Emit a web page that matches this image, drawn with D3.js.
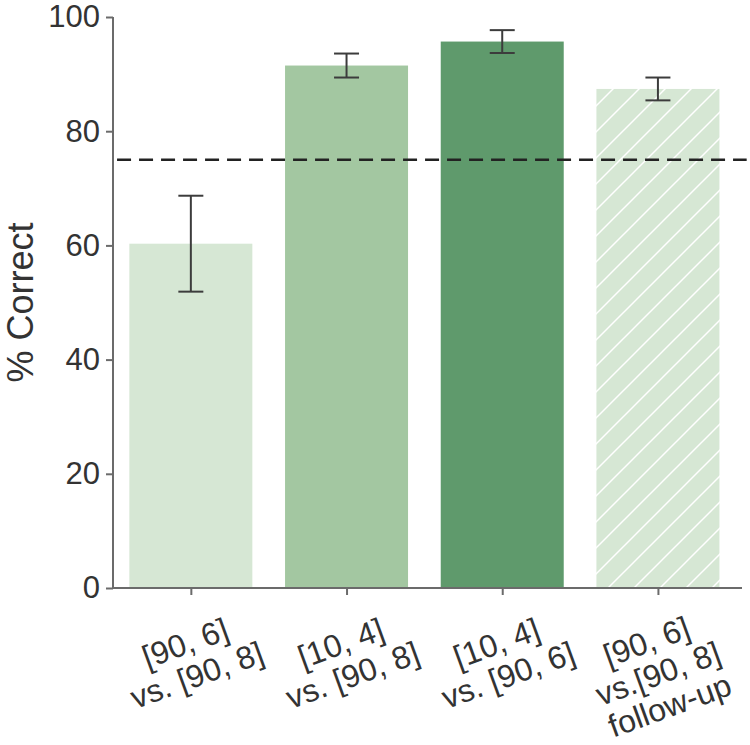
<!DOCTYPE html>
<html>
<head>
<meta charset="UTF-8">
<script src="https://d3js.org/d3.v7.min.js"></script>
<style>
  body { margin: 0; background: #fff; }
  svg text { font-family: "Liberation Sans", Arial, sans-serif; fill: #333; }
</style>
</head>
<body>
<svg id="chart" width="750" height="745"></svg>
<script>
// data
const categories = [
  ["[90, 6]", "vs. [90, 8]"],
  ["[10, 4]", "vs. [90, 8]"],
  ["[10, 4]", "vs. [90, 6]"],
  ["[90, 6]", "vs.[90, 8]", "follow-up"]
];
const values = [60.3, 91.5, 95.7, 87.4];
const errors = [8.4, 2.1, 2.0, 2.0];
const colors = ["#d6e7d4", "#a3c7a1", "#5f9a6c", "#d6e7d4"];
const hatched = [false, false, false, true];
const yTicks = [0, 20, 40, 60, 80, 100];
const chance = 75;

const svg = d3.select("#chart");

// scales: bars sit on integer positions like a plain bar plot
const x = d3.scaleLinear().domain([-0.5, 3.54]).range([113, 742]);
const y = d3.scaleLinear().domain([0, 100]).range([588, 17]);
const barW = 0.79;

// hatch pattern for the follow-up bar
const defs = svg.append("defs");
const pat = defs.append("pattern")
  .attr("id", "hatch")
  .attr("patternUnits", "userSpaceOnUse")
  .attr("width", 26).attr("height", 26);
pat.append("rect").attr("width", 26).attr("height", 26).attr("fill", colors[3]);
pat.append("path")
  .attr("d", "M0,26 L26,0 M-6,6 L6,-6 M20,32 L32,20")
  .attr("stroke", "#fff").attr("stroke-width", 1.5);

// bars
svg.selectAll(".bar")
  .data(values)
  .enter().append("rect")
  .attr("class", "bar")
  .attr("x", (d, i) => x(i - barW / 2))
  .attr("width", (d, i) => x(i + barW / 2) - x(i - barW / 2))
  .attr("y", d => y(d))
  .attr("height", d => y(0) - y(d))
  .attr("fill", (d, i) => hatched[i] ? "url(#hatch)" : colors[i]);

// dashed chance line
svg.append("line")
  .attr("x1", x(-0.474)).attr("x2", x(3.57))
  .attr("y1", y(chance)).attr("y2", y(chance))
  .attr("stroke", "#222").attr("stroke-width", 2.5)
  .attr("stroke-dasharray", "14,8");

// error bars
const capW = 12.5;
const eb = svg.selectAll(".err")
  .data(values)
  .enter().append("g")
  .attr("class", "err")
  .attr("stroke", "#3c3c3c").attr("stroke-width", 2);
eb.append("line")
  .attr("x1", (d, i) => x(i)).attr("x2", (d, i) => x(i))
  .attr("y1", (d, i) => y(d - errors[i])).attr("y2", (d, i) => y(d + errors[i]));
eb.append("line")
  .attr("x1", (d, i) => x(i) - capW).attr("x2", (d, i) => x(i) + capW)
  .attr("y1", (d, i) => y(d + errors[i])).attr("y2", (d, i) => y(d + errors[i]));
eb.append("line")
  .attr("x1", (d, i) => x(i) - capW).attr("x2", (d, i) => x(i) + capW)
  .attr("y1", (d, i) => y(d - errors[i])).attr("y2", (d, i) => y(d - errors[i]));

// y axis
const yAxis = svg.append("g")
  .attr("transform", "translate(" + x(-0.5) + ",0)")
  .call(d3.axisLeft(y).tickValues(yTicks).tickSize(7).tickPadding(6));
yAxis.select(".domain").attr("stroke", "#6b6b6b").attr("stroke-width", 2)
  .attr("d", "M0," + y(0) + "V" + y(100));
yAxis.selectAll(".tick line").attr("stroke", "#6b6b6b").attr("stroke-width", 2);
yAxis.selectAll(".tick text").attr("font-size", 31).attr("fill", "#333")
  .attr("font-family", "Liberation Sans, Arial, sans-serif");

// x axis
const xAxis = svg.append("g")
  .attr("transform", "translate(0," + y(0) + ")")
  .call(d3.axisBottom(x).tickValues(d3.range(values.length)).tickSize(7).tickFormat(""));
xAxis.select(".domain").attr("stroke", "#6b6b6b").attr("stroke-width", 2)
  .attr("d", "M" + x(-0.5) + ",0H" + x(3.54));
xAxis.selectAll(".tick line").attr("stroke", "#6b6b6b").attr("stroke-width", 2);

// rotated multi-line category labels, top aligned under the axis
const fs = 32, lineH = 34, ang = 20, labelTop = 603;
const rad = ang * Math.PI / 180;
categories.forEach((lines, i) => {
  const g = svg.append("g");
  const n = lines.length;
  let w = 0;
  lines.forEach((s, j) => {
    const t = g.append("text")
      .attr("text-anchor", "middle")
      .attr("font-size", fs)
      .attr("y", (j - (n - 1) / 2) * lineH + 0.36 * fs)
      .text(s);
    w = Math.max(w, t.node().getComputedTextLength());
  });
  const h = n * lineH;
  const cy = labelTop + (w / 2) * Math.sin(rad) + (h / 2) * Math.cos(rad);
  g.attr("transform", "translate(" + x(i) + "," + cy + ") rotate(" + (-ang) + ")");
});

// y label
svg.append("text")
  .attr("transform", "translate(33," + (y(0) + y(100)) / 2 + ") rotate(-90)")
  .attr("text-anchor", "middle")
  .attr("font-size", 36)
  .text("% Correct");
</script>
</body>
</html>
